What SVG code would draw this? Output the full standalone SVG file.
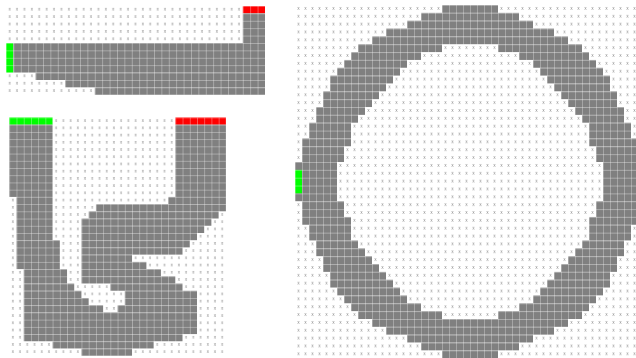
<svg xmlns="http://www.w3.org/2000/svg" width="636" height="358" viewBox="0 0 636 358">
<style>
.g{fill:#808080}.r{fill:#ff0000}.n{fill:#00ff00}
.xm{font-family:"DejaVu Sans",sans-serif;font-size:6px;fill:#8c8c8c;text-anchor:middle}
</style>
<defs>
<pattern id="xm" patternUnits="userSpaceOnUse" width="1" height="1"><text class="xm" transform="scale(0.1)" x="5" y="6.6">x</text></pattern>
<pattern id="ln" patternUnits="userSpaceOnUse" width="1" height="1"><rect width="1" height="0.12" fill="#fff" fill-opacity="0.35"/><rect width="0.12" height="1" fill="#fff" fill-opacity="0.35"/></pattern>
</defs>
<rect width="636" height="358" fill="#fff"/>
<g id="grid1" transform="translate(6,6) scale(7.4)">
<rect width="35" height="12" fill="url(#xm)"/>
<rect class="r" x="32" y="0" width="3" height="1"/>
<rect class="g" x="32" y="1" width="3" height="4"/>
<rect class="n" x="0" y="5" width="1" height="4"/>
<rect class="g" x="1" y="5" width="34" height="4"/>
<rect class="g" x="4" y="9" width="31" height="1"/>
<rect class="g" x="8" y="10" width="27" height="1"/>
<rect class="g" x="12" y="11" width="23" height="1"/>
<rect width="35" height="12" fill="url(#ln)"/>
</g>
<g id="grid2" transform="translate(9.3,117.5) scale(7.22)">
<rect width="30" height="33" fill="url(#xm)"/>
<rect class="n" x="0" y="0" width="6" height="1"/>
<rect class="r" x="23" y="0" width="7" height="1"/>
<rect class="g" x="0" y="1" width="6" height="10"/>
<rect class="g" x="23" y="1" width="7" height="10"/>
<rect class="g" x="1" y="11" width="5" height="6"/>
<rect class="g" x="22" y="11" width="8" height="1"/>
<rect class="g" x="12" y="12" width="18" height="1"/>
<rect class="g" x="11" y="13" width="18" height="1"/>
<rect class="g" x="10" y="14" width="18" height="1"/>
<rect class="g" x="10" y="15" width="17" height="1"/>
<rect class="g" x="10" y="16" width="16" height="1"/>
<rect class="g" x="1" y="17" width="6" height="4"/>
<rect class="g" x="10" y="17" width="15" height="1"/>
<rect class="g" x="10" y="18" width="14" height="1"/>
<rect class="g" x="10" y="19" width="7" height="1"/>
<rect class="g" x="10" y="20" width="9" height="1"/>
<rect class="g" x="2" y="21" width="6" height="2"/>
<rect class="g" x="10" y="21" width="11" height="1"/>
<rect class="g" x="10" y="22" width="13" height="1"/>
<rect class="g" x="2" y="23" width="7" height="1"/>
<rect class="g" x="14" y="23" width="10" height="1"/>
<rect class="g" x="2" y="24" width="8" height="1"/>
<rect class="g" x="16" y="24" width="10" height="1"/>
<rect class="g" x="2" y="25" width="9" height="1"/>
<rect class="g" x="16" y="25" width="10" height="1"/>
<rect class="g" x="2" y="26" width="11" height="1"/>
<rect class="g" x="15" y="26" width="11" height="1"/>
<rect class="g" x="2" y="27" width="24" height="3"/>
<rect class="g" x="2" y="30" width="22" height="1"/>
<rect class="g" x="6" y="31" width="14" height="1"/>
<rect class="g" x="10" y="32" width="7" height="1"/>
<rect width="30" height="33" fill="url(#ln)"/>
</g>
<g id="grid3" transform="translate(295,5) scale(7,7.85)">
<rect width="50" height="45" fill="url(#xm)"/>
<rect class="g" x="21" y="0" width="8" height="1"/>
<rect class="g" x="18" y="1" width="14" height="1"/>
<rect class="g" x="16" y="2" width="18" height="1"/>
<rect class="g" x="13" y="3" width="24" height="1"/>
<rect class="g" x="11" y="4" width="28" height="1"/>
<rect class="g" x="9" y="5" width="12" height="1"/><rect class="g" x="29" y="5" width="12" height="1"/>
<rect class="g" x="8" y="6" width="10" height="1"/><rect class="g" x="32" y="6" width="10" height="1"/>
<rect class="g" x="7" y="7" width="9" height="1"/><rect class="g" x="34" y="7" width="9" height="1"/>
<rect class="g" x="6" y="8" width="9" height="1"/><rect class="g" x="35" y="8" width="9" height="1"/>
<rect class="g" x="5" y="9" width="9" height="1"/><rect class="g" x="36" y="9" width="9" height="1"/>
<rect class="g" x="5" y="10" width="8" height="1"/><rect class="g" x="37" y="10" width="8" height="1"/>
<rect class="g" x="4" y="11" width="8" height="1"/><rect class="g" x="38" y="11" width="8" height="1"/>
<rect class="g" x="4" y="12" width="7" height="1"/><rect class="g" x="39" y="12" width="7" height="1"/>
<rect class="g" x="3" y="13" width="7" height="1"/><rect class="g" x="40" y="13" width="7" height="1"/>
<rect class="g" x="3" y="14" width="6" height="1"/><rect class="g" x="41" y="14" width="6" height="1"/>
<rect class="g" x="2" y="15" width="6" height="2"/><rect class="g" x="42" y="15" width="6" height="2"/>
<rect class="g" x="1" y="17" width="7" height="1"/><rect class="g" x="42" y="17" width="7" height="1"/>
<rect class="g" x="1" y="18" width="6" height="2"/><rect class="g" x="43" y="18" width="6" height="2"/>
<rect class="g" x="0" y="20" width="6" height="5"/><rect class="g" x="44" y="20" width="6" height="5"/>
<rect class="n" x="0" y="21" width="1" height="3"/>
<rect class="g" x="1" y="25" width="6" height="2"/><rect class="g" x="43" y="25" width="6" height="2"/>
<rect class="g" x="1" y="27" width="7" height="1"/><rect class="g" x="42" y="27" width="7" height="1"/>
<rect class="g" x="2" y="28" width="6" height="2"/><rect class="g" x="42" y="28" width="6" height="2"/>
<rect class="g" x="3" y="30" width="6" height="1"/><rect class="g" x="41" y="30" width="6" height="1"/>
<rect class="g" x="3" y="31" width="7" height="1"/><rect class="g" x="40" y="31" width="7" height="1"/>
<rect class="g" x="4" y="32" width="7" height="1"/><rect class="g" x="39" y="32" width="7" height="1"/>
<rect class="g" x="4" y="33" width="8" height="1"/><rect class="g" x="38" y="33" width="8" height="1"/>
<rect class="g" x="5" y="34" width="8" height="1"/><rect class="g" x="37" y="34" width="8" height="1"/>
<rect class="g" x="5" y="35" width="9" height="1"/><rect class="g" x="36" y="35" width="9" height="1"/>
<rect class="g" x="6" y="36" width="9" height="1"/><rect class="g" x="35" y="36" width="9" height="1"/>
<rect class="g" x="7" y="37" width="9" height="1"/><rect class="g" x="34" y="37" width="9" height="1"/>
<rect class="g" x="8" y="38" width="10" height="1"/><rect class="g" x="32" y="38" width="10" height="1"/>
<rect class="g" x="9" y="39" width="12" height="1"/><rect class="g" x="29" y="39" width="12" height="1"/>
<rect class="g" x="11" y="40" width="28" height="1"/>
<rect class="g" x="13" y="41" width="24" height="1"/>
<rect class="g" x="16" y="42" width="18" height="1"/>
<rect class="g" x="18" y="43" width="14" height="1"/>
<rect class="g" x="21" y="44" width="8" height="1"/>
<rect width="50" height="45" fill="url(#ln)"/>
</g>
</svg>
